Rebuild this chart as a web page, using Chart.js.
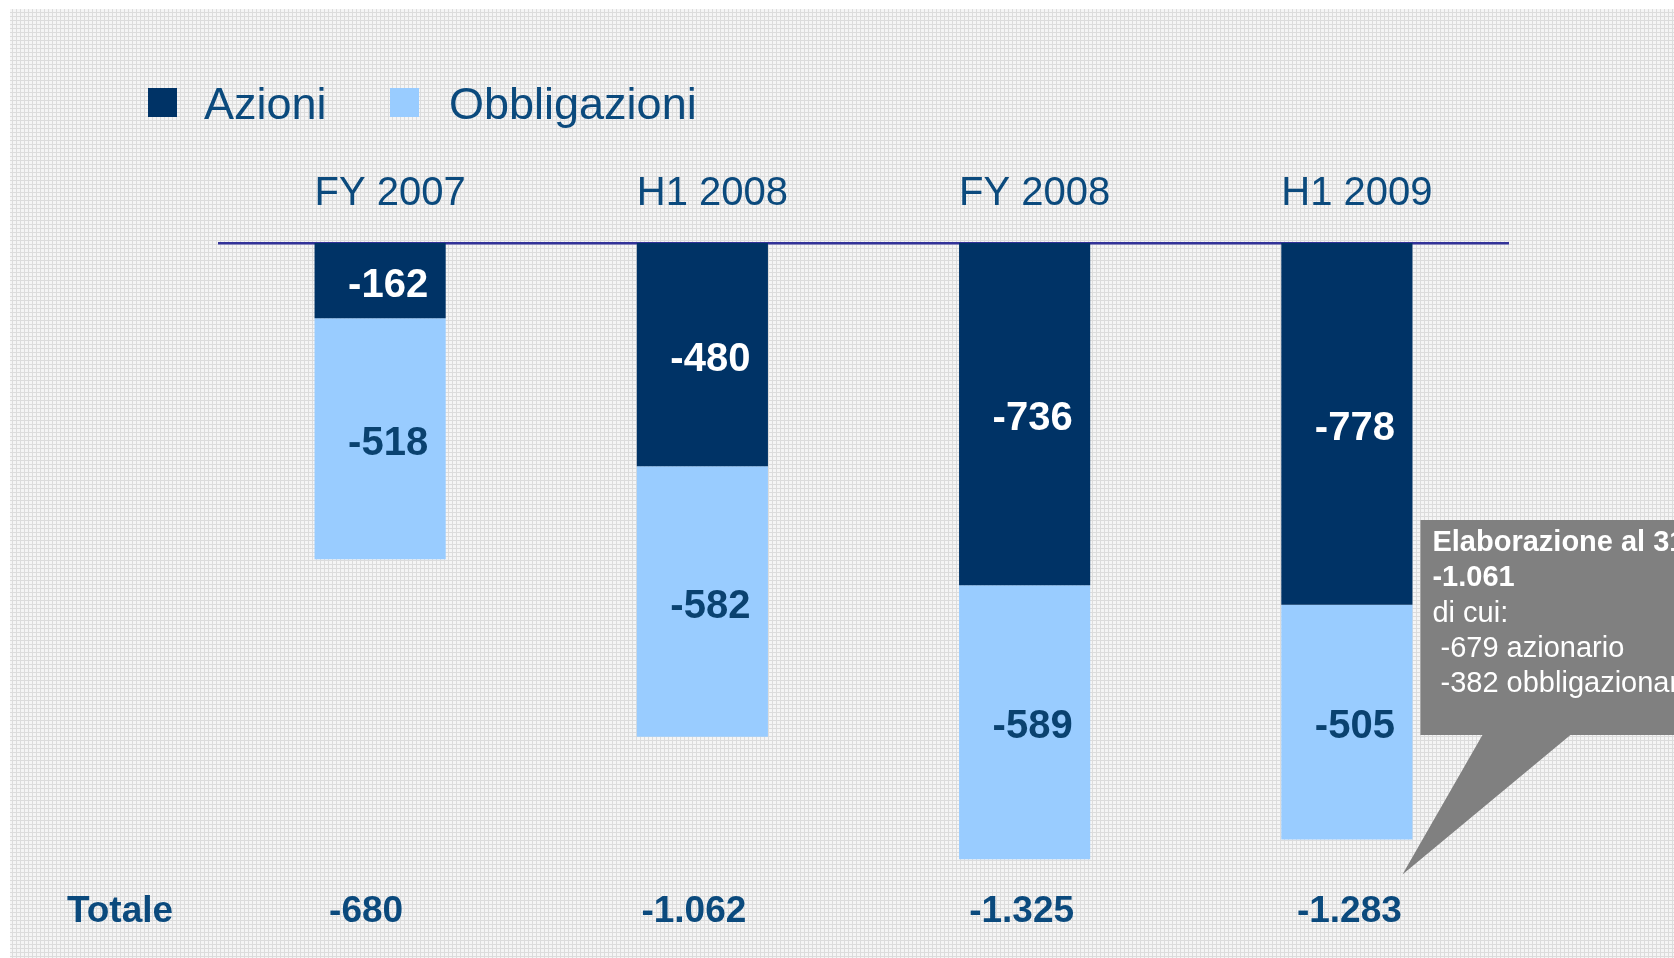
<!DOCTYPE html>
<html lang="it">
<head>
<meta charset="UTF-8">
<title>Azioni e Obbligazioni</title>
<script src="https://cdn.jsdelivr.net/npm/chart.js"></script>
<style>
  html, body { margin: 0; padding: 0; background: #fff; }
  #grafico { display: block; }
</style>
</head>
<body>
<canvas id="grafico" width="1674" height="958"></canvas>
<script>
  const periodi = ['FY 2007', 'H1 2008', 'FY 2008', 'H1 2009'];
  const azioni = [-162, -480, -736, -778];
  const obbligazioni = [-518, -582, -589, -505];
  const totali = [-680, -1062, -1325, -1283];
  const nota = ['Elaborazione al 31/07/2009', '-1.061', 'di cui:', ' -679 azionario', ' -382 obbligazionario'];

  const BLU = '#0b4a7d', FONT = '"Liberation Sans", Arial, sans-serif';
  const fmt = v => String(v).replace(/\B(?=(\d{3})+(?!\d))/g, '.');

  // sfondo a trama grigia
  const sfondo = { id: 'sfondo', beforeDraw(c) {
    const ctx = c.ctx, t = document.createElement('canvas');
    t.width = t.height = 4;
    const tc = t.getContext('2d');
    tc.fillStyle = '#f5f5f5'; tc.fillRect(0, 0, 4, 4);
    tc.fillStyle = '#dcdcdc'; tc.fillRect(0, 0, 4, 1); tc.fillRect(0, 0, 1, 4);
    ctx.save();
    ctx.fillStyle = '#fff'; ctx.fillRect(0, 0, c.width, c.height);
    ctx.fillStyle = ctx.createPattern(t, 'repeat'); ctx.fillRect(10, 9, c.width - 10, c.height - 9);
    ctx.restore();
  }};

  const legenda = { id: 'legenda', afterDraw(c) {
    const ctx = c.ctx;
    ctx.save();
    ctx.font = '45px ' + FONT; ctx.textBaseline = 'alphabetic'; ctx.textAlign = 'left';
    [[148, 204], [390, 449]].forEach(([bx, tx], i) => {
      const ds = c.data.datasets[i];
      ctx.fillStyle = ds.backgroundColor; ctx.fillRect(bx, 88, 29, 29);
      ctx.fillStyle = BLU; ctx.fillText(ds.label, tx, 119);
    });
    ctx.restore();
  }};

  const etichette = { id: 'etichette', afterDatasetsDraw(c) {
    const ctx = c.ctx;
    ctx.save();
    ctx.font = 'bold 40px ' + FONT; ctx.textAlign = 'center'; ctx.textBaseline = 'middle';
    c.data.datasets.forEach((ds, i) => {
      c.getDatasetMeta(i).data.forEach((bar, j) => {
        ctx.fillStyle = i === 0 ? '#fff' : '#0a4270';
        ctx.fillText(fmt(ds.data[j]), bar.x + 8, (bar.y + bar.base) / 2 + 5);
      });
    });
    // riga dei totali
    ctx.font = 'bold 37px ' + FONT; ctx.fillStyle = BLU;
    ctx.fillText('Totale', 120, 912);
    c.getDatasetMeta(0).data.forEach((bar, j) => ctx.fillText(fmt(totali[j]), bar.x - 14 + 5.5 * j, 912));
    ctx.restore();
  }};

  const fumetto = { id: 'fumetto', afterDraw(c) {
    const ctx = c.ctx, b = c.getDatasetMeta(1).data[3];
    const x0 = b.x + b.width / 2 + 8;
    ctx.save();
    ctx.fillStyle = '#808080';
    ctx.beginPath();
    ctx.moveTo(x0, 520); ctx.lineTo(c.width, 520); ctx.lineTo(c.width, 735);
    ctx.lineTo(x0 + 150, 735); ctx.lineTo(x0 - 18, b.y + 35); ctx.lineTo(x0 + 62, 735);
    ctx.lineTo(x0, 735); ctx.closePath(); ctx.fill();
    ctx.fillStyle = '#fff'; ctx.textAlign = 'left'; ctx.textBaseline = 'middle';
    nota.forEach((r, i) => {
      ctx.font = (i < 2 ? 'bold ' : '') + '29px ' + FONT;
      ctx.fillText(r, x0 + 12, 543 + i * 35.3);
    });
    ctx.restore();
  }};

  new Chart(document.getElementById('grafico'), {
    type: 'bar',
    data: {
      labels: periodi,
      datasets: [
        { label: 'Azioni', data: azioni, backgroundColor: '#003366' },
        { label: 'Obbligazioni', data: obbligazioni, backgroundColor: '#99ccff' }
      ]
    },
    options: {
      responsive: false, animation: false,
      layout: { padding: { left: 219, right: 166, top: 0, bottom: 64 } },
      datasets: { bar: { barPercentage: 0.407, categoryPercentage: 1 } },
      plugins: { legend: { display: false }, tooltip: { enabled: false } },
      scales: {
        x: {
          stacked: true, position: 'top',
          grid: { display: false, drawTicks: false },
          border: { color: '#333399', width: 2.5 },
          ticks: { color: BLU, font: { family: FONT, size: 40 }, padding: 25, labelOffset: 10 },
          afterFit: s => { s.height = 243; }
        },
        y: { stacked: true, display: false, min: -1400, max: 0 }
      }
    },
    plugins: [sfondo, legenda, etichette, fumetto]
  });
</script>
</body>
</html>
